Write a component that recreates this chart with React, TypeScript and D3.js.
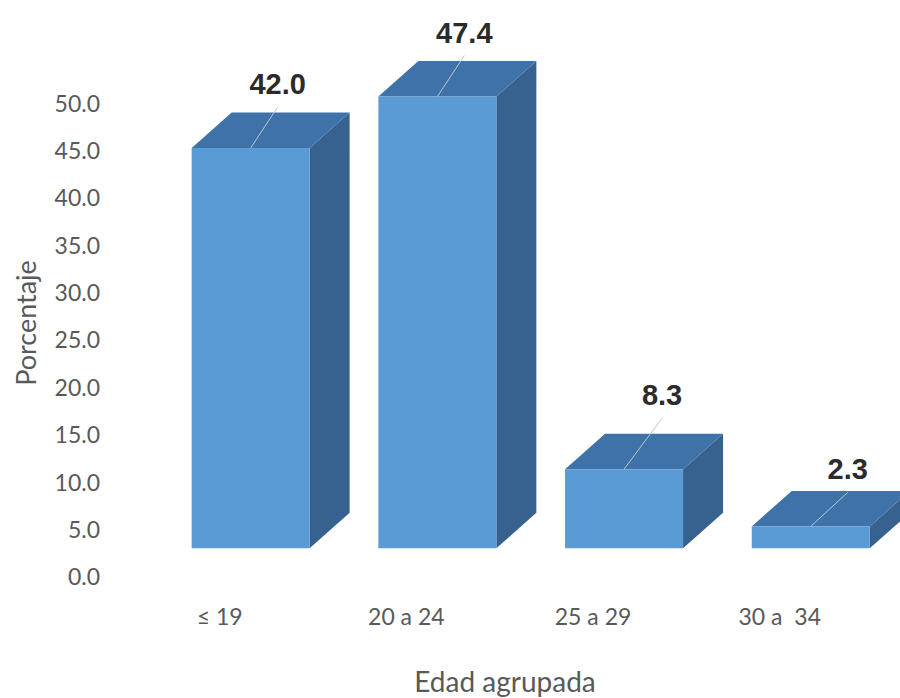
import React from "react";
import * as d3 from "d3";

const categories = ["≤ 19", "20 a 24", "25 a 29", "30 a  34"];
const values = [42.0, 47.4, 8.3, 2.3];
const yTicks = [0, 5, 10, 15, 20, 25, 30, 35, 40, 45, 50];
const xTitle = "Edad agrupada";
const yTitle = "Porcentaje";

// layout nudges for the data labels (dx from front centre, dy from front top)
const labelNudge: [number, number][] = [
  [27, -54],
  [27, -54],
  [38, -64],
  [37, -47],
];

const W = 900;
const H = 698;
const DX = 40;
const DY = -35.5;

const COLORS = {
  front: "#5b9bd5",
  top: "#3f72a9",
  side: "#37628f",
  tick: "#595959",
  label: "#2b2b2b",
  leader: "#b8c6d6",
};

export default function App() {
  const x = d3
    .scaleBand<string>()
    .domain(categories)
    .range([157.3, 904.1])
    .paddingInner(0.368)
    .paddingOuter(0.184);

  const yAxis = d3.scaleLinear().domain([0, 50]).range([577, 103.3]);
  const yBar = d3.scaleLinear().domain([0, 50]).range([548.3, 548.3 - 50 * 9.53]);
  const fmt = d3.format(".1f");
  const bw = x.bandwidth();

  return (
    <svg
      width={W}
      height={H}
      style={{ position: "absolute", left: 0, top: 0, background: "#fff" }}
    >
      {/* y tick labels */}
      {yTicks.map((t) => (
        <text
          key={t}
          x={100}
          y={yAxis(t)}
          dy="0.36em"
          textAnchor="end"
          fontFamily="Lato, 'Open Sans', sans-serif"
          fontSize={23}
          fill={COLORS.tick}
        >
          {fmt(t)}
        </text>
      ))}

      {/* y title */}
      <text
        transform={`translate(36,323) rotate(-90)`}
        textAnchor="middle"
        fontFamily="Lato, 'Open Sans', sans-serif"
        fontSize={27}
        fill={COLORS.tick}
      >
        {yTitle}
      </text>

      {/* bars */}
      {categories.map((c, i) => {
        const x0 = x(c)!;
        const x1 = x0 + bw;
        const yb = yBar(0);
        const yt = yBar(values[i]);
        const front = `M${x0},${yt}L${x1},${yt}L${x1},${yb}L${x0},${yb}Z`;
        const top = `M${x0},${yt}L${x0 + DX},${yt + DY}L${x1 + DX},${yt + DY}L${x1},${yt}Z`;
        const side = `M${x1},${yt}L${x1 + DX},${yt + DY}L${x1 + DX},${yb + DY}L${x1},${yb}Z`;
        const cx = x0 + bw / 2;
        const [ndx, ndy] = labelNudge[i];
        const lx = cx + ndx;
        const ly = yt + ndy;
        return (
          <g key={c}>
            <path d={side} fill={COLORS.side} />
            <path d={top} fill={COLORS.top} />
            <path d={front} fill={COLORS.front} />
            <line
              x1={cx}
              y1={yt}
              x2={lx}
              y2={ly + 13}
              stroke={COLORS.leader}
              strokeWidth={1}
            />
            <text
              x={lx}
              y={ly}
              textAnchor="middle"
              fontFamily="'Liberation Sans', Arial, sans-serif"
              fontWeight="bold"
              fontSize={29}
              fill={COLORS.label}
            >
              {fmt(values[i])}
            </text>
          </g>
        );
      })}

      {/* x tick labels */}
      {categories.map((c) => (
        <text
          key={c}
          x={x(c)! + bw / 2 - 31}
          y={625}
          textAnchor="middle"
          fontFamily="Lato, 'Open Sans', sans-serif"
          fontSize={23}
          fill={COLORS.tick}
          style={{ whiteSpace: "pre" }}
        >
          {c}
        </text>
      ))}

      {/* x title */}
      <text
        x={505}
        y={692}
        textAnchor="middle"
        fontFamily="Lato, 'Open Sans', sans-serif"
        fontSize={28}
        fill={COLORS.tick}
      >
        {xTitle}
      </text>
    </svg>
  );
}
